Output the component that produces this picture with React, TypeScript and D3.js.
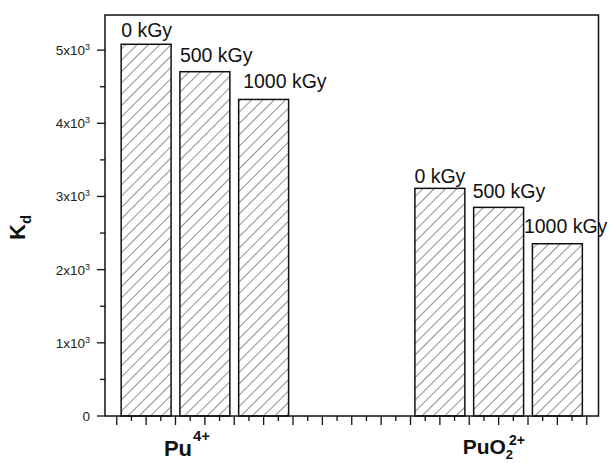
import React from "react";
import * as d3 from "d3";

// Kd values
const doses = ["0 kGy", "500 kGy", "1000 kGy"];
const puIV = [5080, 4705, 4326];
const puO2 = [3111, 2851, 2354];
const barPositions = [[1, 2, 3], [6, 7, 8]];
const groupCenters = [2, 7];
const yTicks = [0, 1000, 2000, 3000, 4000, 5000];

// hand placement of the dose labels, like the original
const labelNudge = [
  [[0, -7.5], [0, -10], [4.5, -11]],
  [[-0.5, -5], [-1, -9], [-8.5, -10.5]],
];

const W = 612;
const H = 463;
const margin = { left: 105, top: 15, right: 13.5, bottom: 47 };

const App = () => {
  const x = d3.scaleLinear().domain([0.3, 8.7]).range([margin.left, W - margin.right]);
  const y = d3.scaleLinear().domain([0, 5480]).range([H - margin.bottom, margin.top]);
  const barW = x(0.85) - x(0);
  const x0 = margin.left;
  const y0 = y(0);

  const xMinor = d3.range(0.5, 8.7, 0.25);
  const yMinor = d3.range(500, 5480, 1000);

  const series = [puIV, puO2];
  const font = "'Liberation Sans', Arial, sans-serif";

  return (
    <svg width={W} height={H} style={{ position: "absolute", left: 0, top: 0 }} fontFamily={font}>
      <defs>
        <pattern id="hatch" patternUnits="userSpaceOnUse" width="8" height="8" patternTransform="rotate(45)">
          <rect width="8" height="8" fill="white" />
          <line x1="0" y1="0" x2="0" y2="8" stroke="#222" strokeWidth="1" />
        </pattern>
      </defs>
      <rect width={W} height={H} fill="white" />

      {series.map((vals, g) =>
        vals.map((v, i) => {
          const cx = x(barPositions[g][i]);
          const [ndx, ndy] = labelNudge[g][i];
          return (
            <g key={g + "-" + i}>
              <rect
                x={cx - barW / 2}
                y={y(v)}
                width={barW}
                height={y0 - y(v)}
                fill="url(#hatch)"
                stroke="#111"
                strokeWidth={1.5}
              />
              <text x={cx - barW / 2 + ndx} y={y(v) + ndy} fontSize={19.5} fill="#111">
                {doses[i]}
              </text>
            </g>
          );
        })
      )}

      {/* frame */}
      <rect
        x={x0}
        y={margin.top}
        width={W - margin.right - x0}
        height={y0 - margin.top}
        fill="none"
        stroke="#111"
        strokeWidth={1.5}
      />

      {/* y ticks */}
      {yTicks.map((t) => (
        <g key={"y" + t}>
          <line x1={x0 - 8} x2={x0} y1={y(t)} y2={y(t)} stroke="#111" strokeWidth={1.3} />
          <text x={90} y={y(t) + 5} fontSize={13.5} textAnchor="end" fill="#222">
            {t === 0 ? (
              "0"
            ) : (
              <>
                {t / 1000 + "x10"}
                <tspan dy={-5} fontSize={9}>3</tspan>
              </>
            )}
          </text>
        </g>
      ))}
      {yMinor.map((t) => (
        <line key={"ym" + t} x1={x0 - 5} x2={x0} y1={y(t)} y2={y(t)} stroke="#111" strokeWidth={1.3} />
      ))}

      {/* x ticks */}
      {xMinor.map((t) => {
        const major = Math.abs(t * 2 - Math.round(t * 2)) < 1e-6;
        return (
          <line
            key={"x" + t}
            x1={x(t)}
            x2={x(t)}
            y1={y0}
            y2={y0 + (major ? 9 : 5)}
            stroke="#111"
            strokeWidth={1.3}
          />
        );
      })}

      {/* category labels */}
      <text x={x(groupCenters[0]) - 41} y={455.5} fontSize={22} fontWeight="bold" fill="#111">
        Pu<tspan dx={1} dy={-15} fontSize={15}>4+</tspan>
      </text>
      <text x={x(groupCenters[1]) - 36} y={454} fontSize={21} fontWeight="bold" fill="#111">
        PuO<tspan dy={5} fontSize={13}>2</tspan>
        <tspan dy={-14.5} dx={-4} fontSize={14}>2+</tspan>
      </text>

      {/* y axis label */}
      <text transform="translate(25,240) rotate(-90)" fontSize={22} fontWeight="bold" fill="#111">
        K<tspan dy={6} fontSize={15}>d</tspan>
      </text>
    </svg>
  );
};

export default App;
